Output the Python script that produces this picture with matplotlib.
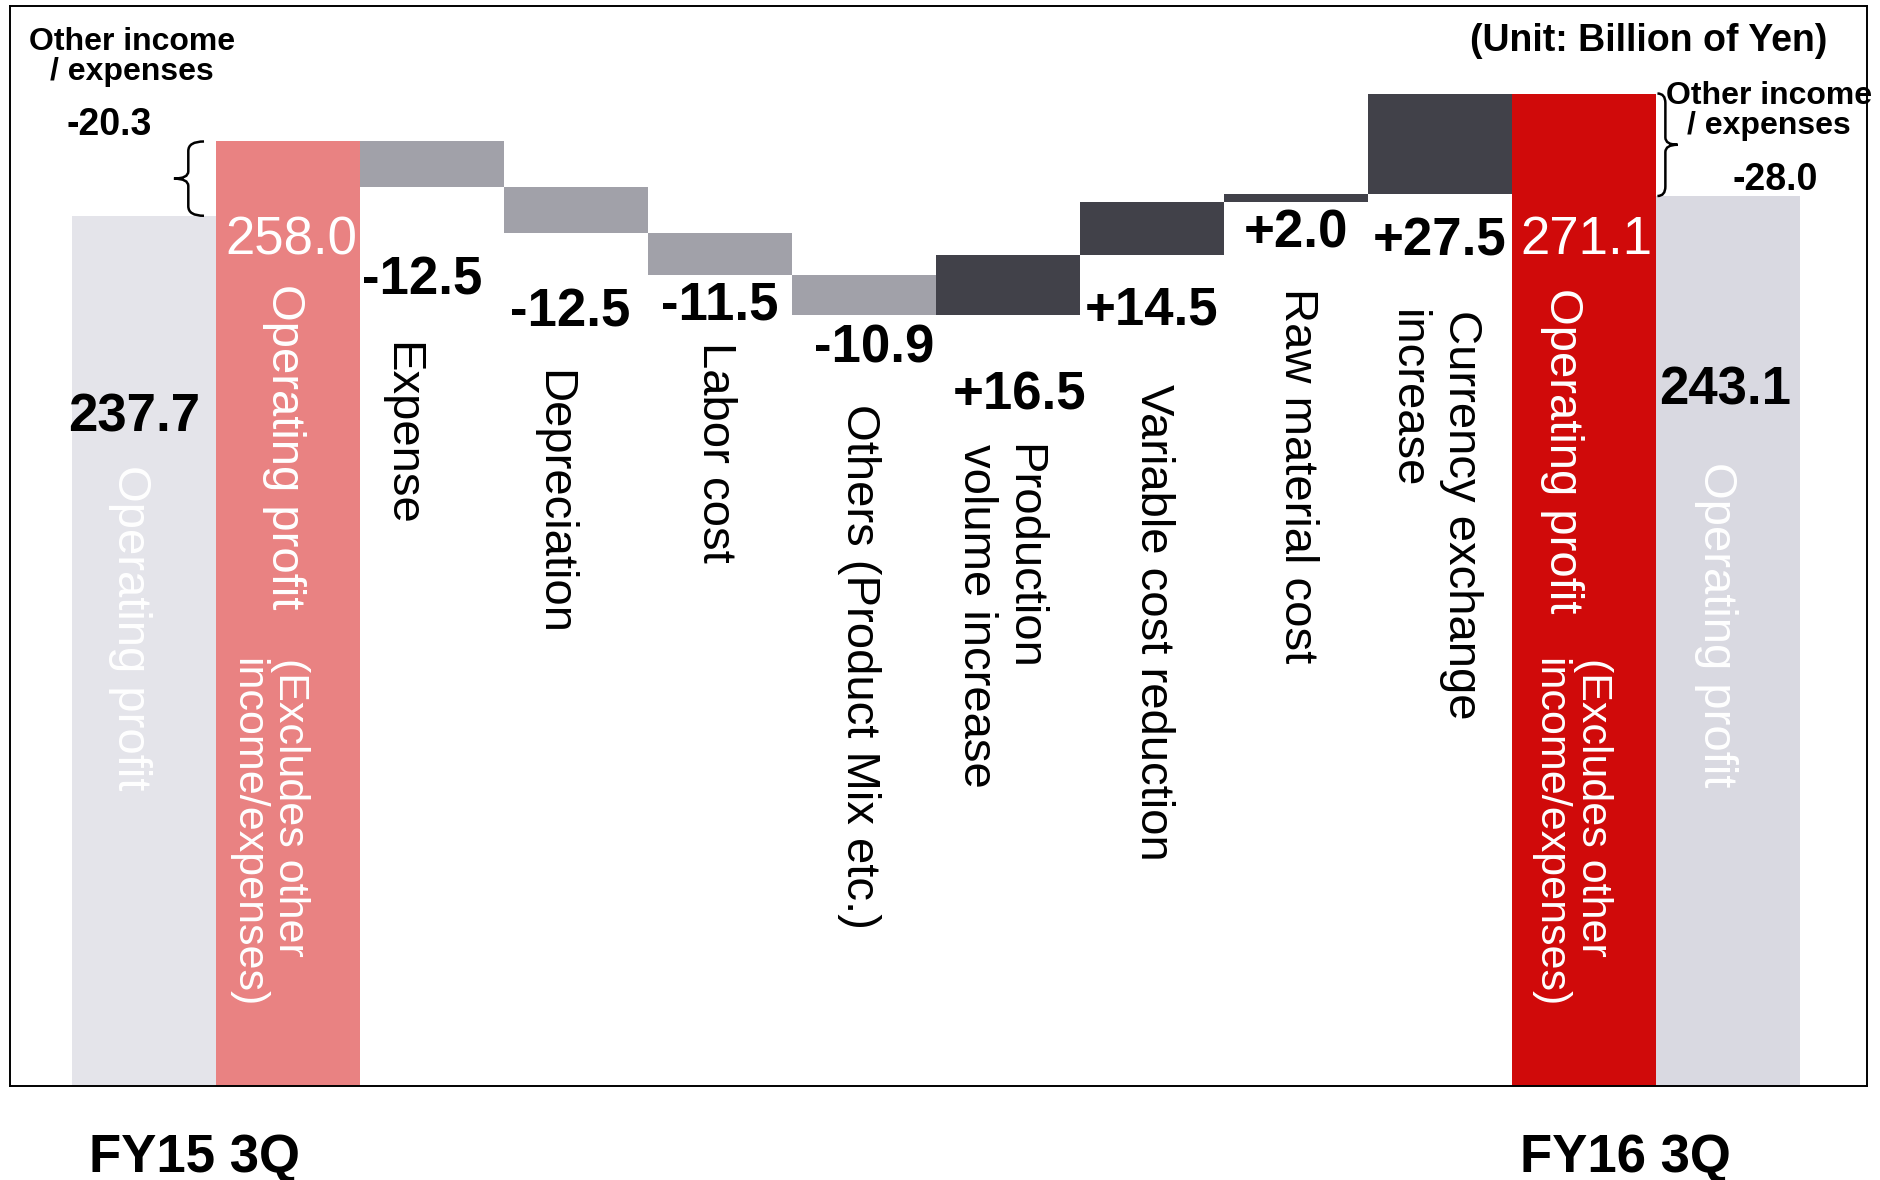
import matplotlib.pyplot as plt
from matplotlib.path import Path
import matplotlib.patches as patches
import numpy as np

plt.rcParams['font.family'] = ['Liberation Sans', 'DejaVu Sans']

# ---- data (Billion of Yen) ----
fy15_op = 237.7          # operating profit
fy15_core = 258.0        # operating profit excl. other income/expenses
fy16_core = 271.1
fy16_op = 243.1
other_fy15 = '-20.3'
other_fy16 = '-28.0'

step_labels = ['Expense', 'Depreciation', 'Labor cost', 'Others (Product Mix etc.)',
               'Production\nvolume increase', 'Variable cost reduction',
               'Raw material cost', 'Currency exchange\nincrease']
step_values = [-12.5, -12.5, -11.5, -10.9, 16.5, 14.5, 2.0, 27.5]
period_labels = ['FY15 3Q', 'FY16 3Q']

# ---- waterfall levels ----
levels = fy15_core + np.cumsum([0.0] + step_values)
bottoms = np.minimum(levels[:-1], levels[1:])
heights = np.abs(step_values)
step_x = np.arange(2, 2 + len(step_values))
step_colors = ['#A1A1A9' if v < 0 else '#414149' for v in step_values]

fig = plt.figure(figsize=(18.81, 11.80), dpi=100)
ax = fig.add_axes([0.0051, 0.0797, 0.9876, 0.9152])

ax.bar(0, fy15_op, width=1.0, color='#E4E4EA')
ax.bar(1, fy15_core, width=1.0, color='#E98282')
ax.bar(step_x, heights, bottom=bottoms, width=1.0, color=step_colors)
ax.bar(10, fy16_core, width=1.0, color='#D00A0A')
ax.bar(11, fy16_op, width=1.0, color='#D9D9E1')

ax.set_xlim(-0.933, 11.967)
ax.set_ylim(0, 295)
ax.set_xticks([])
ax.set_yticks([])
for s in ax.spines.values():
    s.set_color('black')
    s.set_linewidth(1.4)

# step value labels, under each block
gaps = [25.6, 21.6, 8.2, 9.2, 22.0, 15.4, 8.8, 12.8]
val_dx = [-0.07, -0.04, 0, 0.07, 0.08, 0, 0, 0]
for x, dx, b, v, g in zip(step_x, val_dx, bottoms, step_values, gaps):
    ax.text(x + dx, b - g, f'{v:+.1f}', ha='center', va='center',
            fontsize=38, fontweight='bold', color='black')

# category labels, rotated
lab_dx = [-0.215, -0.16, -0.035, -0.035, -0.06, 0.005, 0.005, -0.045]
lab_top = [203.2, 195.7, 203.2, 186.2, 175.3, 191.7, 218.0, 212.0]
lab_ls = [1.1, 1.1, 1.1, 1.1, 1.1, 1.1, 1.1, 1.3]
for x, dx, top, ls, lab in zip(step_x, lab_dx, lab_top, lab_ls, step_labels):
    ax.text(x + dx, top, lab, rotation=270, rotation_mode='anchor',
            ha='left', va='center', multialignment='left', fontsize=34,
            linespacing=ls, color='black')

# big bars text
ax.text(-0.067, 182.6, f'{fy15_op:.1f}', ha='center', va='center',
        fontsize=38, fontweight='bold', color='black')
ax.text(10.98, 190.1, f'{fy16_op:.1f}', ha='center', va='center',
        fontsize=38, fontweight='bold', color='black')
ax.text(1.025, 231.0, f'{fy15_core:.1f}', ha='center', va='center',
        fontsize=38, color='white')
ax.text(10.02, 231.0, f'{fy16_core:.1f}', ha='center', va='center',
        fontsize=38, color='white')

for x, top in [(-0.1, 169.5), (10.92, 170.4), (0.975, 219.0), (9.85, 218.0)]:
    ax.text(x, top, 'Operating profit', rotation=270, rotation_mode='anchor',
            ha='left', va='center', fontsize=34, color='white')
for x in [0.867, 9.91]:
    ax.text(x, 117, '(Excludes other\nincome/expenses)', rotation=270,
            rotation_mode='anchor', ha='left', va='center',
            multialignment='left', fontsize=31, linespacing=1.1, color='white')


# braces for other income / expenses
def brace(x_hook, x_line, x_tip, y_lo, y_hi):
    ym = (y_lo + y_hi) / 2
    r, t = 2.6, 2.0
    verts = [(x_hook, y_hi), (x_line, y_hi), (x_line, y_hi - r),
             (x_line, ym + t), (x_line, ym), (x_tip, ym),
             (x_line, ym), (x_line, ym - t),
             (x_line, y_lo + r), (x_line, y_lo), (x_hook, y_lo)]
    codes = [Path.MOVETO, Path.CURVE3, Path.CURVE3,
             Path.LINETO, Path.CURVE3, Path.CURVE3,
             Path.CURVE3, Path.CURVE3,
             Path.LINETO, Path.CURVE3, Path.CURVE3]
    ax.add_patch(patches.PathPatch(Path(verts, codes), facecolor='none',
                                   edgecolor='black', lw=1.8, clip_on=False))


brace(0.417, 0.308, 0.208, fy15_op, fy15_core)
brace(10.51, 10.565, 10.65, fy16_op, fy16_core)

ax.text(-0.083, 281.0, 'Other income\n/ expenses', ha='center', va='center',
        fontsize=23, fontweight='bold', linespacing=1.0)
ax.text(-0.242, 262.5, other_fy15, ha='center', va='center',
        fontsize=27, fontweight='bold')
ax.text(11.285, 266.2, 'Other income\n/ expenses', ha='center', va='center',
        fontsize=23, fontweight='bold', linespacing=1.0, clip_on=False)
ax.text(11.325, 247.5, other_fy16, ha='center', va='center',
        fontsize=27, fontweight='bold')
ax.text(11.69, 285.5, '(Unit: Billion of Yen)', ha='right', va='center',
        fontsize=27, fontweight='bold')

# period labels under the frame
for x, lab in zip([0.35, 10.29], period_labels):
    ax.text(x, -19.7, lab, ha='center', va='center', fontsize=38,
            fontweight='bold', clip_on=False)

fig.savefig('out.png', dpi=100, facecolor='white')
